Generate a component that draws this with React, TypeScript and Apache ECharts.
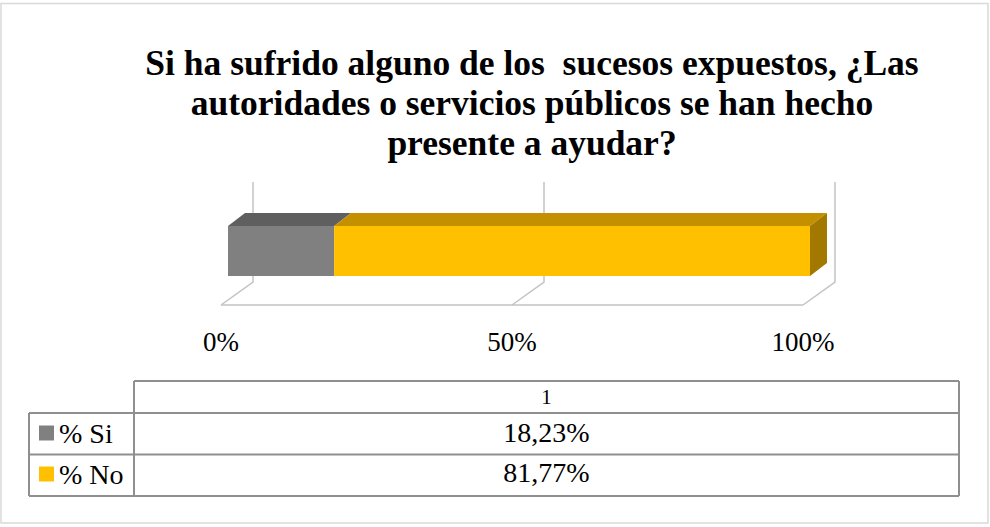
import React, { useEffect, useRef } from 'react';
import * as echarts from 'echarts';

// ---- data ----
const categories = ['1'];
const seriesNames = ['% Si', '% No'];
const siValues = [18.23];
const noValues = [81.77];
const tickValues = [0, 50, 100];
const titleLines = [
  'Si ha sufrido alguno de los  sucesos expuestos, ¿Las',
  'autoridades o servicios públicos se han hecho',
  'presente a ayudar?',
];

// ---- styles / geometry ----
const FONT = "'Liberation Serif', 'Times New Roman', serif";
const GRID_COLOR = '#c3c3c3';
const TABLE_COLOR = '#8f8f8f';
const SI_COLORS = { front: '#808080', top: '#5f5f5f', side: '#4f4f4f' };
const NO_COLORS = { front: '#ffc000', top: '#c49000', side: '#a27800' };
const BAR_FRONT_DX = 7; // bar front face relative to floor front
const BAR_DEPTH_DX = 17;
const BAR_DEPTH_DY = 13;
const WALL_DX = 32; // back wall relative to floor front
const WALL_TOP_UP = 44; // above bar front top
const WALL_BOTTOM_DOWN = 6; // below bar front bottom
const FLOOR_DOWN = 29; // floor front below bar front bottom

const fmt = (v: number) => v.toFixed(2).replace('.', ',') + '%';

function makeBarRender(colors: { front: string; top: string; side: string }, drawSide: boolean) {
  return (params: any, api: any) => {
    const start = api.value(0);
    const end = api.value(1);
    const cat = api.value(2);
    const p0 = api.coord([start, cat]);
    const p1 = api.coord([end, cat]);
    const h = api.size([0, 1])[1];
    const x0 = p0[0] + BAR_FRONT_DX;
    const x1 = p1[0] + BAR_FRONT_DX;
    const yT = p0[1] - h / 2;
    const yB = p0[1] + h / 2;
    const children: any[] = [
      {
        type: 'polygon',
        shape: { points: [[x0, yT], [x1, yT], [x1 + BAR_DEPTH_DX, yT - BAR_DEPTH_DY], [x0 + BAR_DEPTH_DX, yT - BAR_DEPTH_DY]] },
        style: { fill: colors.top },
      },
      {
        type: 'rect',
        shape: { x: x0, y: yT, width: x1 - x0, height: yB - yT },
        style: { fill: colors.front },
      },
    ];
    if (drawSide) {
      children.push({
        type: 'polygon',
        shape: { points: [[x1, yT], [x1 + BAR_DEPTH_DX, yT - BAR_DEPTH_DY], [x1 + BAR_DEPTH_DX, yB - BAR_DEPTH_DY], [x1, yB]] },
        style: { fill: colors.side },
      });
    }
    return { type: 'group', children };
  };
}

function gridRender(params: any, api: any) {
  const v = api.value(0);
  const p = api.coord([v, 0]);
  const h = api.size([0, 1])[1];
  const yT = p[1] - h / 2;
  const yB = p[1] + h / 2;
  const wallX = p[0] + WALL_DX;
  const wallTop = yT - WALL_TOP_UP;
  const wallBottom = yB + WALL_BOTTOM_DOWN;
  const floorY = yB + FLOOR_DOWN;
  const style = { stroke: GRID_COLOR, lineWidth: 1.5, fill: 'none' };
  const children: any[] = [
    { type: 'polyline', shape: { points: [[wallX, wallTop], [wallX, wallBottom], [p[0], floorY]] }, style },
  ];
  const idx = params.dataIndex;
  if (idx > 0) {
    const prev = api.coord([tickValues[idx - 1], 0]);
    children.push({ type: 'line', shape: { x1: prev[0], y1: floorY, x2: p[0], y2: floorY }, style });
  }
  return { type: 'group', children };
}

// table geometry
const T_LEFT = 29;
const T_COL = 134;
const T_RIGHT = 959;
const T_ROWS = [381, 413, 454.5, 496];

export default function App() {
  const ref = useRef<HTMLDivElement>(null);

  useEffect(() => {
    if (!ref.current) return;
    const chart = echarts.init(ref.current, undefined, { renderer: 'svg' });

    const siData = siValues.map((v, i) => [0, v, i]);
    const noData = noValues.map((v, i) => [siValues[i], siValues[i] + v, i]);

    const lineStyle = { stroke: TABLE_COLOR, lineWidth: 2 };
    const tableLines: any[] = [
      { type: 'line', shape: { x1: T_COL, y1: T_ROWS[0], x2: T_RIGHT, y2: T_ROWS[0] } },
      { type: 'line', shape: { x1: T_LEFT, y1: T_ROWS[1], x2: T_RIGHT, y2: T_ROWS[1] } },
      { type: 'line', shape: { x1: T_LEFT, y1: T_ROWS[2], x2: T_RIGHT, y2: T_ROWS[2] } },
      { type: 'line', shape: { x1: T_LEFT, y1: T_ROWS[3], x2: T_RIGHT, y2: T_ROWS[3] } },
      { type: 'line', shape: { x1: T_LEFT, y1: T_ROWS[1], x2: T_LEFT, y2: T_ROWS[3] } },
      { type: 'line', shape: { x1: T_COL, y1: T_ROWS[0], x2: T_COL, y2: T_ROWS[3] } },
      { type: 'line', shape: { x1: T_RIGHT, y1: T_ROWS[0], x2: T_RIGHT, y2: T_ROWS[3] } },
    ].map((l) => ({ ...l, style: lineStyle, silent: true }));

    const cx = (T_COL + T_RIGHT) / 2;
    const tableTexts: any[] = [
      {
        type: 'text', x: cx, y: (T_ROWS[0] + T_ROWS[1]) / 2,
        style: { text: categories[0], fontFamily: FONT, fontSize: 21, fill: '#000', align: 'center', verticalAlign: 'middle' },
      },
      {
        type: 'text', x: cx, y: (T_ROWS[1] + T_ROWS[2]) / 2 - 1.5,
        style: { text: fmt(siValues[0]), fontFamily: FONT, fontSize: 28, fill: '#000', align: 'center', verticalAlign: 'middle' },
      },
      {
        type: 'text', x: cx, y: (T_ROWS[2] + T_ROWS[3]) / 2 - 2.5,
        style: { text: fmt(noValues[0]), fontFamily: FONT, fontSize: 28, fill: '#000', align: 'center', verticalAlign: 'middle' },
      },
    ];

    chart.setOption({
      animation: false,
      backgroundColor: '#ffffff',
      title: {
        text: titleLines.join('\n'),
        left: 527,
        top: 38,
        textAlign: 'center',
        textStyle: { fontFamily: FONT, fontWeight: 'bold', fontSize: 35.5, lineHeight: 40, color: '#000' },
      },
      legend: {
        data: seriesNames,
        orient: 'vertical',
        left: 34,
        top: 414,
        itemWidth: 15,
        itemHeight: 15,
        itemGap: 13,
        icon: 'rect',
        textStyle: { fontFamily: FONT, fontSize: 28, lineHeight: 28, color: '#000' },
        selectedMode: false,
      },
      grid: { left: 221, right: 187, top: 226, bottom: 251 },
      xAxis: {
        type: 'value',
        min: 0,
        max: 100,
        interval: 50,
        axisLine: { show: false },
        axisTick: { show: false },
        splitLine: { show: false },
        axisLabel: { formatter: '{value}%', fontFamily: FONT, fontSize: 27, color: '#000', margin: 52 },
      },
      yAxis: { type: 'category', data: categories, show: false },
      series: [
        {
          type: 'custom',
          name: 'grid3d',
          renderItem: gridRender,
          data: tickValues.map((v) => [v, 0]),
          encode: { x: 0, y: 1 },
          clip: false,
          silent: true,
          z: 1,
        },
        {
          type: 'custom',
          name: seriesNames[0],
          renderItem: makeBarRender(SI_COLORS, false),
          data: siData,
          encode: { x: [0, 1], y: 2 },
          itemStyle: { color: SI_COLORS.front },
          clip: false,
          z: 2,
        },
        {
          type: 'custom',
          name: seriesNames[1],
          renderItem: makeBarRender(NO_COLORS, true),
          data: noData,
          encode: { x: [0, 1], y: 2 },
          itemStyle: { color: NO_COLORS.front },
          clip: false,
          z: 3,
        },
      ],
      graphic: [
        {
          type: 'rect',
          shape: { x: 1, y: 3.5, width: 987, height: 519.5 },
          style: { fill: 'none', stroke: '#d9d9d9', lineWidth: 1.5 },
          silent: true,
        },
        ...tableLines,
        ...tableTexts,
      ],
    });

    return () => chart.dispose();
  }, []);

  return (
    <div
      ref={ref}
      style={{ position: 'fixed', left: 0, top: 0, width: 990, height: 527, background: '#fff' }}
    />
  );
}
